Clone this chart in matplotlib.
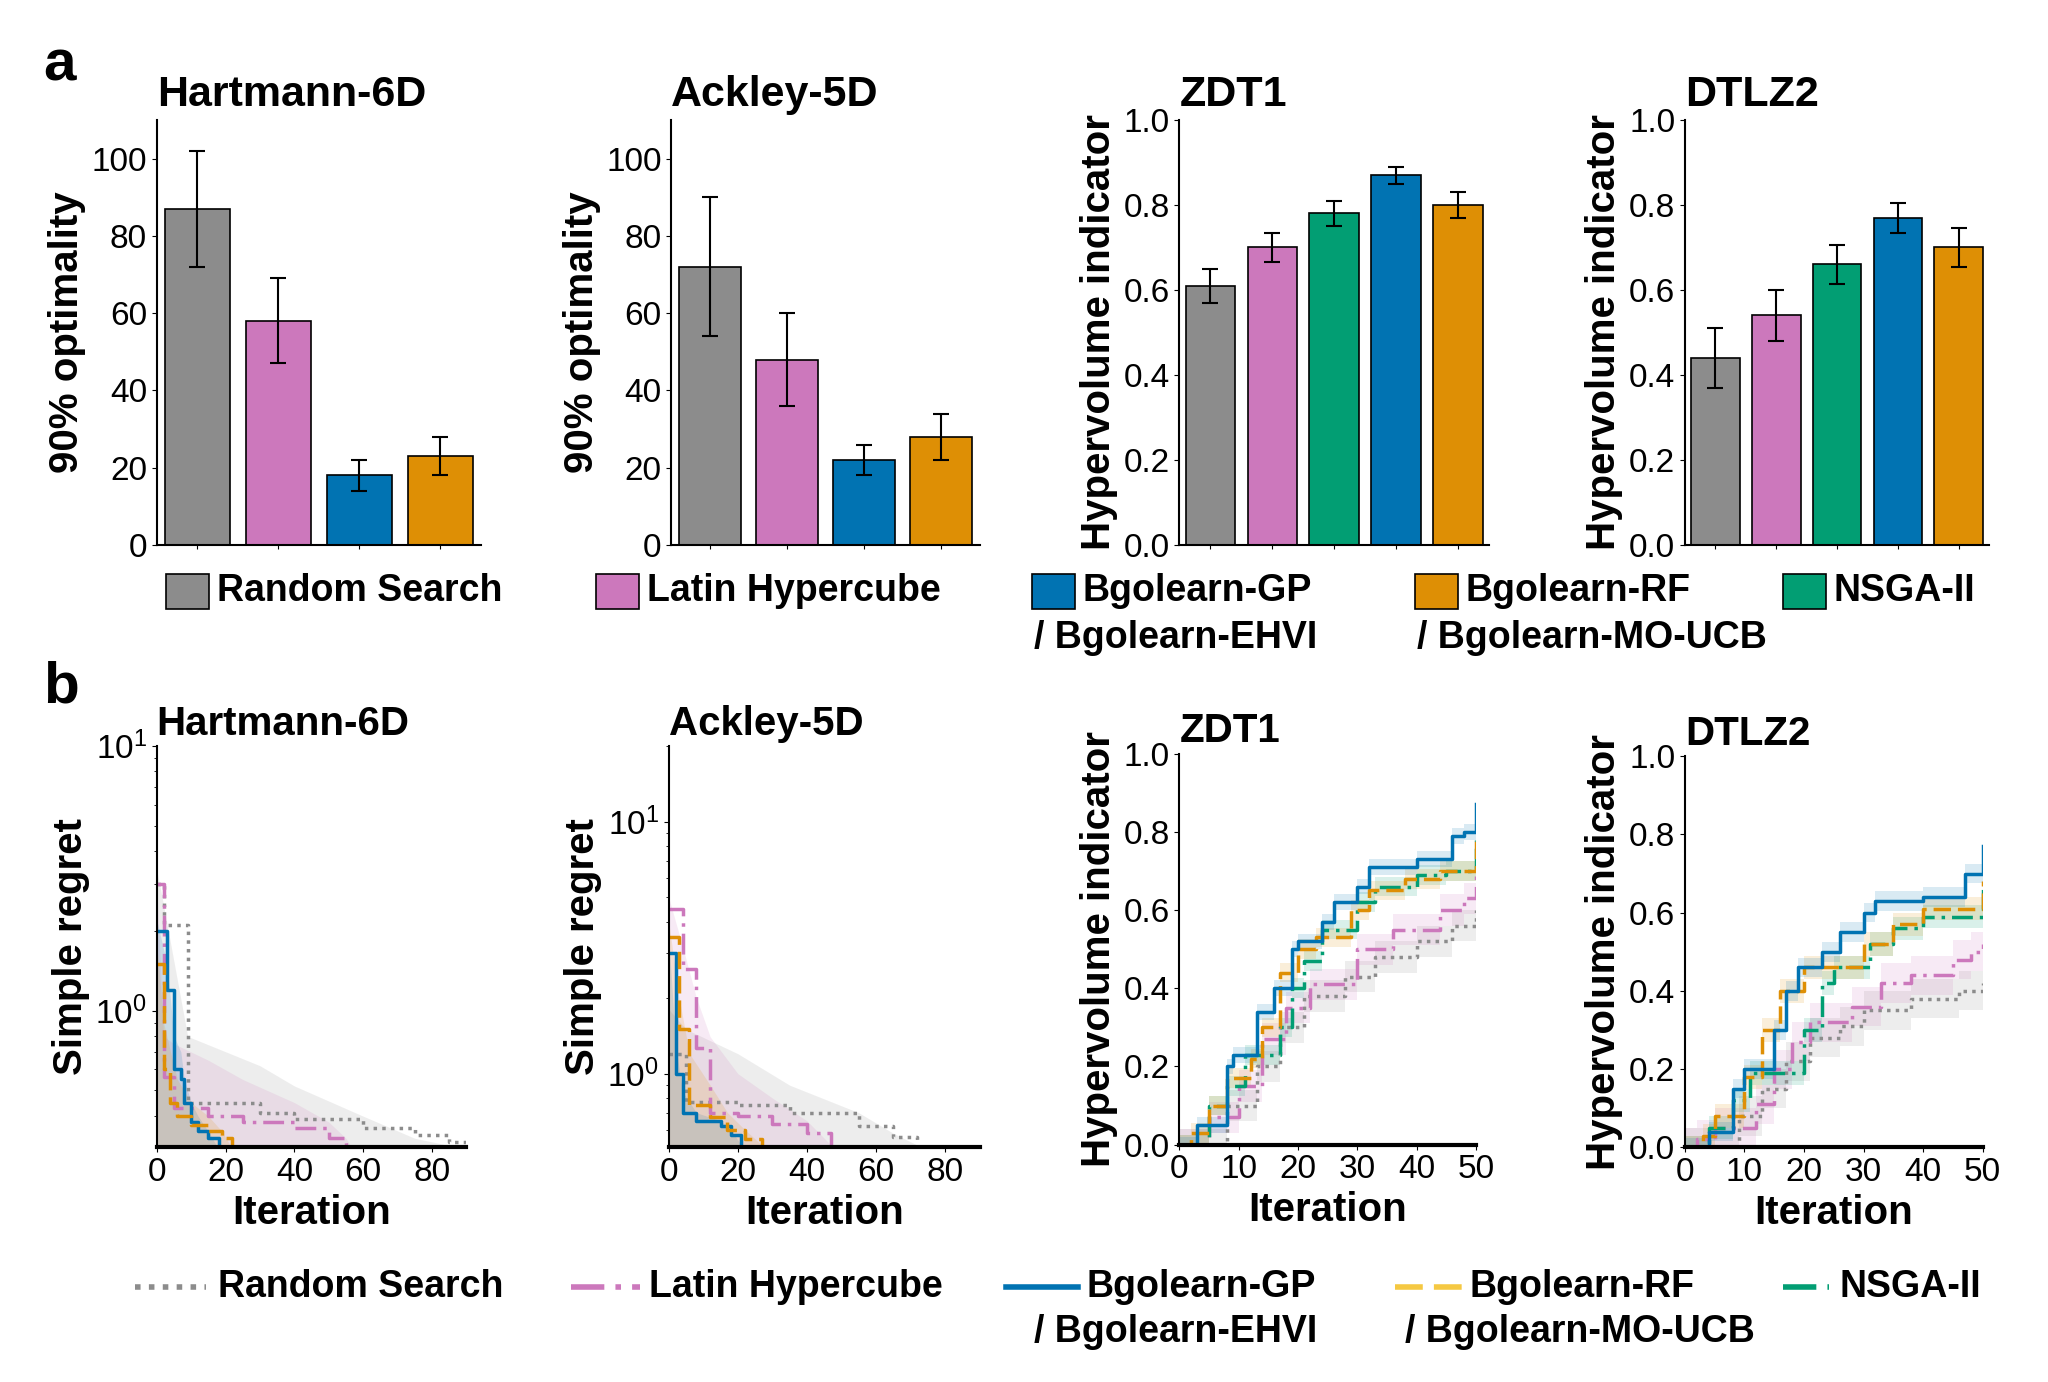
import numpy as np
import matplotlib.pyplot as plt
from matplotlib.patches import Rectangle
from matplotlib.lines import Line2D

# ---- colours (seaborn colorblind-ish)
GREY, PINK, BLUE, ORANGE, GREEN = '#8c8c8c', '#cc78bc', '#0173b2', '#de8f05', '#029e73'

# ---- panel a: bar data
single_colors = [GREY, PINK, BLUE, ORANGE]
hart_mean = [87, 58, 18, 23]
hart_err = [15, 11, 4, 5]
ackley_mean = [72, 48, 22, 28]
ackley_err = [18, 12, 4, 6]

multi_colors = [GREY, PINK, GREEN, BLUE, ORANGE]
zdt1_mean = [0.61, 0.70, 0.78, 0.87, 0.80]
zdt1_err = [0.04, 0.035, 0.03, 0.02, 0.03]
dtlz2_mean = [0.44, 0.54, 0.66, 0.77, 0.70]
dtlz2_err = [0.07, 0.06, 0.045, 0.035, 0.045]

# ---- panel b: simple regret (iteration, value) breakpoints, upper band
hart_rs_x = [0, 2, 9, 30, 40, 60, 75, 85, 90]
hart_rs_y = [3.0, 2.1, 0.45, 0.41, 0.39, 0.36, 0.34, 0.32, 0.31]
hart_rs_up = [3.4, 2.5, 0.8, 0.62, 0.52, 0.40, 0.33, 0.31, 0.31]
hart_lhs_x = [0, 2, 5, 15, 25, 40, 50, 55, 57]
hart_lhs_y = [3.0, 0.56, 0.43, 0.40, 0.38, 0.36, 0.33, 0.31, 0.30]
hart_lhs_up = [3.0, 0.8, 0.75, 0.65, 0.55, 0.45, 0.38, 0.33, 0.30]
hart_gp_x = [0, 3, 5, 7, 8, 10, 12, 15, 18]
hart_gp_y = [2.0, 1.2, 0.6, 0.55, 0.45, 0.38, 0.35, 0.33, 0.30]
hart_gp_up = [2.2, 1.5, 0.8, 0.7, 0.55, 0.45, 0.40, 0.35, 0.30]
hart_rf_x = [0, 2, 4, 6, 10, 15, 19, 22]
hart_rf_y = [1.5, 0.6, 0.45, 0.40, 0.37, 0.35, 0.33, 0.30]
hart_rf_up = [1.8, 0.9, 0.7, 0.55, 0.45, 0.40, 0.35, 0.30]

ack_rs_x = [0, 5, 20, 35, 55, 65, 72]
ack_rs_y = [1.2, 0.77, 0.75, 0.70, 0.62, 0.56, 0.52]
ack_rs_up = [1.8, 1.5, 1.2, 0.9, 0.7, 0.58, 0.52]
ack_lhs_x = [0, 4, 8, 12, 20, 30, 40, 47]
ack_lhs_y = [4.5, 2.6, 1.26, 0.70, 0.68, 0.63, 0.58, 0.52]
ack_lhs_up = [5.0, 3.2, 2.0, 1.4, 1.0, 0.8, 0.65, 0.52]
ack_gp_x = [0, 2, 4, 8, 15, 18, 21]
ack_gp_y = [3.0, 1.0, 0.70, 0.65, 0.62, 0.57, 0.52]
ack_gp_up = [3.5, 1.3, 0.85, 0.7, 0.65, 0.6, 0.52]
ack_rf_x = [0, 3, 6, 12, 17, 22, 27]
ack_rf_y = [3.5, 1.5, 0.75, 0.67, 0.60, 0.55, 0.52]
ack_rf_up = [4.0, 2.0, 1.2, 0.9, 0.7, 0.6, 0.52]

# ---- panel b: hypervolume (iteration, value) breakpoints
zdt_gp_x = [0, 2, 3, 8, 9, 13, 16, 19, 20, 24, 26, 30, 32, 40, 46, 48, 50]
zdt_gp_y = [0, 0, .05, .20, .23, .34, .40, .50, .52, .57, .62, .66, .71, .73, .79, .80, .87]
zdt_rf_x = [0, 2, 5, 8, 12, 14, 17, 20, 23, 29, 32, 38, 44, 50]
zdt_rf_y = [0, .03, .10, .17, .22, .30, .44, .50, .53, .60, .65, .68, .70, .78]
zdt_ns_x = [0, 2, 5, 8, 11, 17, 19, 21, 24, 30, 33, 40, 45, 50]
zdt_ns_y = [0, 0, .10, .15, .23, .30, .40, .47, .55, .62, .66, .69, .70, .78]
zdt_lhs_x = [0, 2, 5, 10, 14, 18, 22, 30, 36, 44, 48, 50]
zdt_lhs_y = [0, 0, .07, .15, .27, .35, .41, .50, .55, .60, .63, .69]
zdt_rs_x = [0, 3, 8, 13, 17, 21, 28, 33, 40, 46, 50]
zdt_rs_y = [0, 0, .10, .20, .30, .38, .43, .48, .52, .56, .60]

dt_gp_x = [0, 2, 4, 8, 10, 15, 17, 19, 23, 26, 30, 32, 40, 47, 50]
dt_gp_y = [0, 0, .04, .15, .20, .30, .40, .46, .50, .55, .60, .63, .64, .70, .77]
dt_rf_x = [0, 3, 5, 10, 13, 16, 20, 30, 35, 40, 50]
dt_rf_y = [0, .03, .08, .18, .30, .40, .46, .52, .57, .61, .68]
dt_ns_x = [0, 2, 4, 8, 11, 20, 23, 25, 31, 35, 40, 50]
dt_ns_y = [0, 0, .05, .12, .19, .30, .42, .46, .52, .56, .59, .66]
dt_lhs_x = [0, 2, 5, 12, 15, 18, 21, 28, 33, 38, 45, 48, 50]
dt_lhs_y = [0, .02, .05, .11, .20, .27, .32, .36, .42, .44, .48, .50, .52]
dt_rs_x = [0, 4, 9, 13, 17, 21, 26, 30, 38, 46, 50]
dt_rs_y = [0, 0, .08, .15, .22, .28, .31, .35, .38, .40, .42]

plt.rcParams['font.family'] = ['Liberation Sans', 'DejaVu Sans']
NARROW = ['Liberation Sans Narrow', 'Liberation Sans', 'DejaVu Sans']

fig = plt.figure(figsize=(20.48, 13.82), dpi=100)

LABEL_FS = 29
LEG_FS = 27


def style(ax, lw=1.5):
    for s in ['top', 'right']:
        ax.spines[s].set_visible(False)
    for s in ['left', 'bottom']:
        ax.spines[s].set_linewidth(lw)
    for lab in ax.get_xticklabels() + ax.get_yticklabels():
        lab.set_fontfamily(NARROW)
        lab.set_fontsize(24)


def bar_panel(rect, title, means, errs, colors, ylim, yticks, ylabel):
    ax = fig.add_axes(rect)
    x = np.arange(len(means))
    ax.bar(x, means, width=0.8, color=colors, edgecolor='black', linewidth=1.2)
    ax.errorbar(x, means, yerr=errs, fmt='none', ecolor='black', capsize=6, elinewidth=1.5, capthick=1.5)
    ax.set_ylim(*ylim)
    ax.set_yticks(yticks)
    ax.set_xlim(-0.5, len(means) - 0.5)
    ax.set_xticks(x)
    ax.set_xticklabels([''] * len(means))
    ax.tick_params(axis='x', length=3)
    ax.set_ylabel(ylabel, fontsize=LABEL_FS, fontweight='bold', labelpad=4)
    ax.set_title(title, fontsize=31, fontweight='bold', loc='left', x=0.0, pad=10)
    style(ax)
    return ax


def rect(x0, x1, y0, y1):
    return [x0 / 1568, 1 - y1 / 1060, (x1 - x0) / 1568, (y1 - y0) / 1060]


bar_panel(rect(120, 368, 92, 418), 'Hartmann-6D', hart_mean, hart_err, single_colors,
          (0, 110), [0, 20, 40, 60, 80, 100], '90% optimality')
bar_panel(rect(514, 750, 92, 418), 'Ackley-5D', ackley_mean, ackley_err, single_colors,
          (0, 110), [0, 20, 40, 60, 80, 100], '90% optimality')
bar_panel(rect(903, 1140, 92, 418), 'ZDT1', zdt1_mean, zdt1_err, multi_colors,
          (0, 1.0), [0, .2, .4, .6, .8, 1.0], 'Hypervolume indicator')
bar_panel(rect(1290, 1523, 92, 418), 'DTLZ2', dtlz2_mean, dtlz2_err, multi_colors,
          (0, 1.0), [0, .2, .4, .6, .8, 1.0], 'Hypervolume indicator')


def regret_panel(r, title, series, ylim):
    ax = fig.add_axes(r)
    for xs, ys, up, c, ls in series:
        ax.fill_between(xs, [ylim[0]] * len(xs), up, color=c, alpha=0.15, lw=0)
        ax.step(xs, ys, where='post', color=c, ls=ls, lw=2.5)
    ax.set_yscale('log')
    ax.set_ylim(*ylim)
    ax.set_xlim(0, 90)
    ax.set_xticks([0, 20, 40, 60, 80])
    ax.set_xlabel('Iteration', fontsize=LABEL_FS, fontweight='bold')
    ax.set_ylabel('Simple regret', fontsize=LABEL_FS, fontweight='bold')
    ax.set_title(title, fontsize=29, fontweight='bold', loc='left', pad=8)
    style(ax)
    ax.spines['bottom'].set_linewidth(3)
    for lab in ax.get_yticklabels(minor=True):
        lab.set_visible(False)
    return ax


LS_RS, LS_LHS, LS_GP, LS_RF, LS_NS = (0, (1, 1.5)), (0, (6, 2, 1, 2)), '-', (0, (5, 2)), (0, (6, 2, 1, 2))

regret_panel(rect(120, 357, 572, 880), 'Hartmann-6D', [
    (hart_rs_x, hart_rs_y, hart_rs_up, GREY, LS_RS),
    (hart_lhs_x, hart_lhs_y, hart_lhs_up, PINK, LS_LHS),
    (hart_gp_x, hart_gp_y, hart_gp_up, BLUE, LS_GP),
    (hart_rf_x, hart_rf_y, hart_rf_up, ORANGE, LS_RF)], (0.305, 10))
regret_panel(rect(512, 750, 572, 880), 'Ackley-5D', [
    (ack_rs_x, ack_rs_y, ack_rs_up, GREY, LS_RS),
    (ack_lhs_x, ack_lhs_y, ack_lhs_up, PINK, LS_LHS),
    (ack_gp_x, ack_gp_y, ack_gp_up, BLUE, LS_GP),
    (ack_rf_x, ack_rf_y, ack_rf_up, ORANGE, LS_RF)], (0.51, 20))


def hv_panel(r, title, series):
    ax = fig.add_axes(r)
    for xs, ys, band, c, ls in series:
        ys = np.array(ys)
        ax.fill_between(xs, np.clip(ys - band, 0, None), ys + band, step='post', color=c, alpha=0.15, lw=0)
        ax.step(xs, ys, where='post', color=c, ls=ls, lw=2.5)
    ax.set_ylim(0, 1.0)
    ax.set_xlim(0, 50)
    ax.set_xticks([0, 10, 20, 30, 40, 50])
    ax.set_yticks([0, .2, .4, .6, .8, 1.0])
    ax.set_xlabel('Iteration', fontsize=LABEL_FS, fontweight='bold')
    ax.set_ylabel('Hypervolume indicator', fontsize=LABEL_FS, fontweight='bold')
    ax.set_title(title, fontsize=29, fontweight='bold', loc='left', pad=8)
    style(ax)
    ax.spines['bottom'].set_linewidth(3)
    return ax


hv_panel(rect(903, 1130, 578, 878), 'ZDT1', [
    (zdt_rs_x, zdt_rs_y, 0.04, GREY, LS_RS),
    (zdt_lhs_x, zdt_lhs_y, 0.04, PINK, LS_LHS),
    (zdt_ns_x, zdt_ns_y, 0.025, GREEN, LS_NS),
    (zdt_rf_x, zdt_rf_y, 0.025, ORANGE, LS_RF),
    (zdt_gp_x, zdt_gp_y, 0.02, BLUE, LS_GP)])
hv_panel(rect(1290, 1518, 580, 880), 'DTLZ2', [
    (dt_rs_x, dt_rs_y, 0.05, GREY, LS_RS),
    (dt_lhs_x, dt_lhs_y, 0.05, PINK, LS_LHS),
    (dt_ns_x, dt_ns_y, 0.03, GREEN, LS_NS),
    (dt_rf_x, dt_rf_y, 0.03, ORANGE, LS_RF),
    (dt_gp_x, dt_gp_y, 0.025, BLUE, LS_GP)])

# panel letters
fig.text(33 / 1568, 1 - 50 / 1060, 'a', fontsize=42, fontweight='bold', va='center')
fig.text(33 / 1568, 1 - 527 / 1060, 'b', fontsize=42, fontweight='bold', va='center')

# legends
labels = ['Random Search', 'Latin Hypercube', 'Bgolearn-GP\n/ Bgolearn-EHVI',
          'Bgolearn-RF\n/ Bgolearn-MO-UCB', 'NSGA-II']
leg_colors = [GREY, PINK, BLUE, ORANGE, GREEN]
patch_x = [127, 456, 790, 1083, 1365]
for px, lab, c in zip(patch_x, labels, leg_colors):
    fig.add_artist(Rectangle((px / 1568, 1 - 467 / 1060), 33 / 1568, 27 / 1060,
                             transform=fig.transFigure, facecolor=c, edgecolor='black', lw=1.2))
    parts = lab.split('\n')
    fig.text((px + 39) / 1568, 1 - 453 / 1060, parts[0], fontsize=LEG_FS, fontweight='bold', va='center')
    if len(parts) > 1:
        fig.text((px + 2) / 1568, 1 - 489 / 1060, parts[1], fontsize=LEG_FS, fontweight='bold', va='center')

line_x = [(103, 158), (437, 490), (770, 825), (1068, 1120), (1365, 1400)]
line_ls = [LS_RS, LS_LHS, LS_GP, LS_RF, LS_NS]
line_colors = [GREY, PINK, BLUE, '#f5c842', GREEN]
text_x = [167, 497, 832, 1125, 1408]
second_x = [None, None, 792, 1076, None]
for (x0, x1), ls, c, tx, sx, lab in zip(line_x, line_ls, line_colors, text_x, second_x, labels):
    fig.add_artist(Line2D([x0 / 1568, x1 / 1568], [1 - 987 / 1060] * 2, transform=fig.transFigure,
                          color=c, ls=ls, lw=4))
    parts = lab.split('\n')
    fig.text(tx / 1568, 1 - 987 / 1060, parts[0], fontsize=LEG_FS, fontweight='bold', va='center')
    if len(parts) > 1:
        fig.text(sx / 1568, 1 - 1022 / 1060, parts[1], fontsize=LEG_FS, fontweight='bold', va='center')

fig.savefig('out.png', dpi=100)
